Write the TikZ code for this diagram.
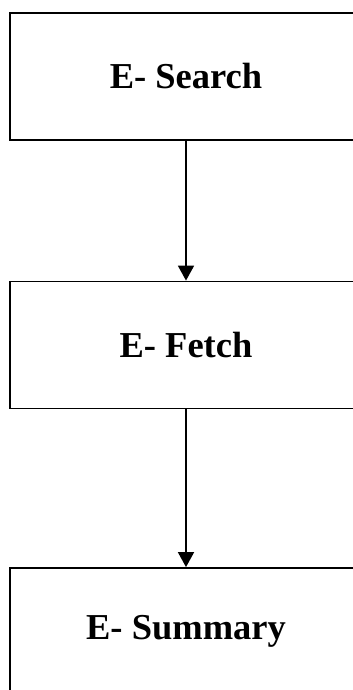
\documentclass[tikz,border=0pt]{standalone}
\usepackage{fontspec}
\setmainfont{Liberation Serif}
\usetikzlibrary{arrows.meta,positioning}

\begin{document}
\begin{tikzpicture}[x=1pt,y=1pt,
    stage/.style={rectangle,draw,line width=1.8pt,minimum width=352pt,minimum height=127pt,
                  font=\fontsize{36.5}{42}\selectfont\bfseries},
    flow/.style={-{Triangle[length=15pt,width=16pt]},line width=1.8pt}]
    \useasboundingbox (0,0) rectangle (353,690);
    \clip (0,0) rectangle (353,690);

    % Search
    \node[stage] (search) at (186, 613.5) {E- Search};

    % Fetch
    \node[stage] (fetch) at (186, 345) {E- Fetch};
    \draw[flow] (search) -- (fetch);

    % Summary
    \node[stage] (summary) at (186, 58.5) {E- Summary};
    \draw[flow] (fetch) -- (summary);
\end{tikzpicture}
\end{document}
